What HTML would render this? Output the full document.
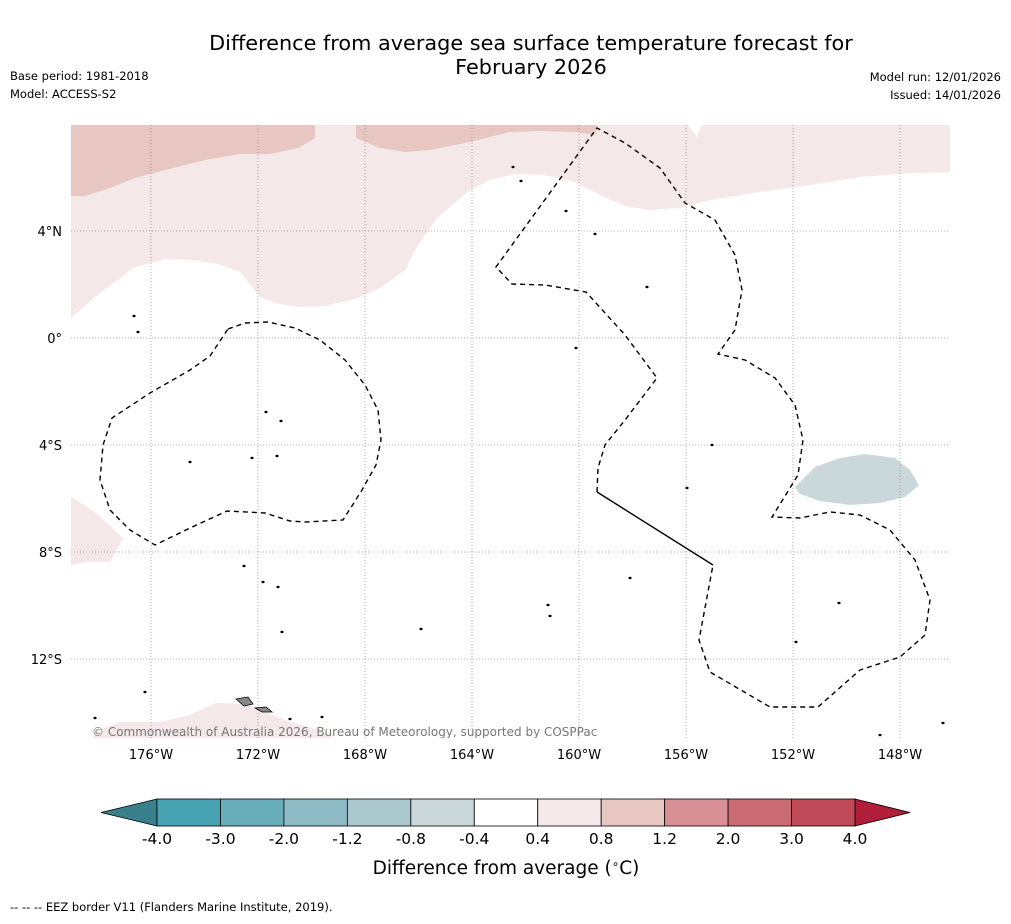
<!DOCTYPE html>
<html><head><meta charset="utf-8"><style>
body{margin:0;background:#fff;font-family:"Liberation Sans","DejaVu Sans",sans-serif}
svg text{font-family:"DejaVu Sans","Liberation Sans",sans-serif}
</style></head><body>
<svg id="s" width="1011" height="919" viewBox="0 0 1011 919">
<text x="531" y="50" font-size="20.8" text-anchor="middle">Difference from average sea surface temperature forecast for</text>
<text x="531" y="74" font-size="20.8" text-anchor="middle">February 2026</text>
<text x="10" y="80" font-size="11.5">Base period: 1981-2018</text>
<text x="10" y="98" font-size="11.5">Model: ACCESS-S2</text>
<text x="1001" y="81" font-size="11.5" text-anchor="end">Model run: 12/01/2026</text>
<text x="1001" y="99" font-size="11.5" text-anchor="end">Issued: 14/01/2026</text>
<defs><clipPath id="mc"><rect x="71" y="125" width="879" height="613"/></clipPath></defs>
<g id="map" clip-path="url(#mc)"></g>
<g id="axes"></g>
<g id="cb"></g>
<text x="506" y="874" font-size="18.5" text-anchor="middle">Difference from average (<tspan font-size="12" dy="-6">∘</tspan><tspan dy="6">C)</tspan></text>
<text x="10" y="911" font-size="11.5">--  --  -- EEZ border V11 (Flanders Marine Institute, 2019).</text>
</svg>
<script>
const lonTicks=[-176,-172,-168,-164,-160,-156,-152,-148];
const latTicks=[4,0,-4,-8,-12];
const latLabels=["4°N","0°","4°S","8°S","12°S"];
const cbBounds=[-4.0,-3.0,-2.0,-1.2,-0.8,-0.4,0.4,0.8,1.2,2.0,3.0,4.0];
const cbColors=["#48a3b2","#69aebb","#8dbac4","#aac8cd","#cad8dc","#ffffff","#f4e9e8","#e8c6c2","#d88f96","#cb6b74","#c04a58"];
const px2ll=p=>[-176+(p[0]-151)/26.75,(338-p[1])/26.75];
const PINK1=[[71,318],[95,297],[133,268],[165,259],[193,260],[218,264],[240,272],[260,297],[275,303],[298,307],[325,306],[355,299],[380,288],[405,270],[418,245],[437,218],[470,190],[490,180],[515,174],[545,175],[575,182],[600,195],[625,206],[650,210],[680,208],[710,200],[760,192],[810,185],[860,177],[910,173],[960,172],[960,115],[705,115],[697,137],[680,115],[60,115],[60,318]].map(px2ll);
const PINK2a=[[60,115],[315,115],[315,138],[298,148],[270,154],[240,154],[205,160],[165,170],[135,178],[110,188],[85,196],[60,196]].map(px2ll);
const PINK2b=[[356,115],[356,138],[380,148],[405,152],[430,150],[470,142],[510,132],[540,131],[575,132],[595,135],[600,115]].map(px2ll);
const PINK3=[[60,490],[71,497],[95,512],[123,538],[110,562],[85,562],[60,568]].map(px2ll);
const PINK4=[[95,732],[120,722],[160,722],[190,715],[215,703],[245,704],[265,712],[290,722],[320,730],[345,745],[90,745]].map(px2ll);
const BLUE=[[795,487],[815,467],[840,458],[865,454],[895,458],[910,470],[919,485],[905,497],[880,503],[850,505],[820,501],[800,494]].map(px2ll);
const EEZ1=[[228,329],[245,323],[268,322],[295,328],[320,340],[345,360],[365,385],[378,410],[381,440],[376,465],[362,490],[343,520],[305,522],[290,521],[265,513],[227,511],[190,528],[155,545],[130,530],[110,510],[100,480],[103,445],[112,418],[150,393],[190,370],[210,356],[228,329]].map(px2ll);
const EEZ2=[[597,492],[598,468],[605,445],[625,420],[657,378],[625,335],[586,292],[545,285],[512,284],[496,267],[597,128],[625,143],[660,168],[685,203],[715,220],[735,255],[742,290],[735,330],[718,354],[745,360],[775,378],[795,405],[803,440],[798,475],[772,517],[800,518],[830,512],[860,515],[890,530],[915,560],[930,600],[925,635],[900,657],[860,670],[818,707],[770,707],[710,672],[699,640],[713,565]].map(px2ll);
const SOLID=[[713,565],[597,492]].map(px2ll);
const ISLANDS=[[513,167],[521,181],[566,211],[595,234],[647,287],[576,348],[266,412],[281,421],[190,462],[252,458],[277,456],[712,445],[687,488],[244,566],[263,582],[278,587],[630,578],[548,605],[550,616],[421,629],[282,632],[839,603],[796,642],[145,692],[95,718],[290,719],[322,717],[880,735],[943,723],[134,316],[138,332]].map(px2ll);

const X=lon=>151+(lon+176)*26.75, Y=lat=>338-lat*26.75;
const NS="http://www.w3.org/2000/svg";
function mk(t,a,p){const e=document.createElementNS(NS,t);for(const k in a)e.setAttribute(k,a[k]);p.appendChild(e);return e;}
const pts=arr=>arr.map(p=>X(p[0]).toFixed(1)+","+Y(p[1]).toFixed(1)).join(" ");
const map=document.getElementById('map');
let e;
[[PINK1,"#f4e9e8","pink-region"],[PINK2a,"#e8c6c2","warm-region-west"],[PINK2b,"#e8c6c2","warm-region-north"],[PINK3,"#f4e9e8","pink-region-west"],[PINK4,"#f4e9e8","pink-region-south"],[BLUE,"#cad8dc","cool-region"]].forEach(d=>{
 e=mk('polygon',{points:pts(d[0]),fill:d[1]},map);
 
 
});
lonTicks.forEach(l=>{e=mk('line',{x1:X(l),x2:X(l),y1:125,y2:738,stroke:"#777","stroke-width":0.6,"stroke-dasharray":"1,2"},map);
 
 });
latTicks.forEach(l=>{e=mk('line',{x1:71,x2:950,y1:Y(l),y2:Y(l),stroke:"#8a5a5a","stroke-width":0.6,"stroke-dasharray":"1,2"},map);
 
 });
e=mk('polygon',{points:pts(EEZ1),fill:"none",stroke:"#000","stroke-width":1.4,"stroke-dasharray":"5,4"},map);


e=mk('polyline',{points:pts(EEZ2),fill:"none",stroke:"#000","stroke-width":1.4,"stroke-dasharray":"5,4"},map);


e=mk('polyline',{points:pts(SOLID),fill:"none",stroke:"#000","stroke-width":1.4},map);


ISLANDS.forEach(p=>{e=mk('ellipse',{cx:X(p[0]),cy:Y(p[1]),rx:1.6,ry:1.2,fill:"#000"},map);
 
 });
e=mk('polygon',{points:"236,699 248,697 253,704 244,706",fill:"#888",stroke:"#000","stroke-width":0.8},map);


e=mk('polygon',{points:"255,708 266,707 272,712 262,712",fill:"#888",stroke:"#000","stroke-width":0.8},map);


e=mk('text',{x:92,y:736,"font-size":12,fill:"#777"},map);e.textContent="© Commonwealth of Australia 2026, Bureau of Meteorology, supported by COSPPac";



const ax=document.getElementById('axes');
lonTicks.forEach(l=>{e=mk('text',{x:X(l),y:759,"font-size":13,"text-anchor":"middle"},ax);e.textContent=Math.abs(l)+"°W";
 
 });
latTicks.forEach((l,i)=>{e=mk('text',{x:62,y:Y(l)+5,"font-size":13,"text-anchor":"end"},ax);e.textContent=latLabels[i];
 
 });

const cb=document.getElementById('cb');
const cx0=157,cw=(855-157)/cbColors.length,cy0=799,ch=27;
mk('polygon',{points:`${cx0},${cy0} 101,${cy0+ch/2} ${cx0},${cy0+ch}`,fill:"#3a7f8c",stroke:"#000","stroke-width":0.8},cb);
cbColors.forEach((c,i)=>{e=mk('rect',{x:cx0+i*cw,y:cy0,width:cw,height:ch,fill:c,stroke:"#000","stroke-width":0.8},cb);
 
 });
mk('polygon',{points:`855,${cy0} 910,${cy0+ch/2} 855,${cy0+ch}`,fill:"#b01e3a",stroke:"#000","stroke-width":0.8},cb);
cbBounds.forEach((b,i)=>{e=mk('text',{x:cx0+i*cw,y:844,"font-size":15.5,"text-anchor":"middle"},cb);e.textContent=b.toFixed(1);
 
 });
</script>
</body></html>
